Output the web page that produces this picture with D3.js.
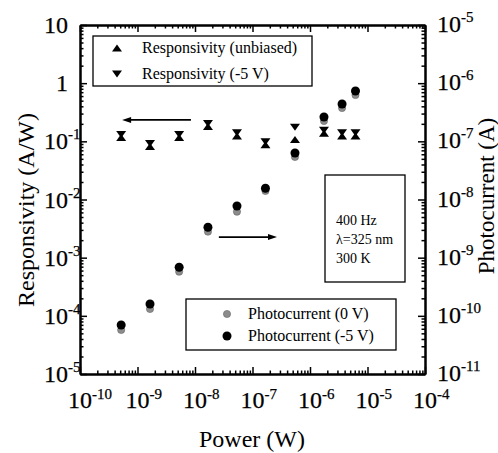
<!DOCTYPE html>
<html><head><meta charset="utf-8">
<script src="https://cdn.jsdelivr.net/npm/d3@7"></script>
<style>body{margin:0;background:#fff}svg{display:block}</style>
</head><body><svg id="c" width="498" height="453"></svg>
<script>
// ---- data ----
const power        = [5.2e-10, 1.65e-9, 5.3e-9, 1.68e-8, 5.37e-8, 1.68e-7, 5.48e-7, 1.75e-6, 3.61e-6, 6.18e-6];
const respUnbiased = [0.116, 0.0815, 0.116, 0.180, 0.124, 0.0873, 0.1076, 0.138, 0.124, 0.124];
const respMinus5V  = [0.131, 0.0918, 0.131, 0.203, 0.140, 0.0982, 0.174, 0.155, 0.140, 0.140];
const photo0V      = [5.71e-11, 1.31e-10, 5.74e-10, 2.80e-9, 6.17e-9, 1.40e-8, 5.38e-8, 2.24e-7, 3.74e-7, 6.26e-7];
const photoMinus5V = [6.97e-11, 1.60e-10, 6.84e-10, 3.33e-9, 7.73e-9, 1.56e-8, 6.31e-8, 2.62e-7, 4.38e-7, 7.33e-7];
const xTickExp      = [-10, -9, -8, -7, -6, -5, -4];
const yLeftTickExp  = [-5, -4, -3, -2, -1, 0, 1];
const yRightTickExp = [-11, -10, -9, -8, -7, -6, -5];
const legendResp  = ["Responsivity (unbiased)", "Responsivity (-5 V)"];
const legendPhoto = ["Photocurrent (0 V)", "Photocurrent (-5 V)"];
const conditions  = ["400 Hz", "\u03bb=325 nm", "300 K"];
const arrowLeft   = [[8.5e-9, 0.233], [5.4e-10, 0.233]];
const arrowRight  = [[2.6e-8, 2.26e-3], [2.67e-7, 2.26e-3]];
const xTitle = "Power (W)", yLeftTitle = "Responsivity (A/W)", yRightTitle = "Photocurrent (A)";

// ---- layout ----
const L = 80, R = 425, T = 25, B = 374;
const FONT = "Liberation Serif, Times New Roman, Times, serif";
const svg = d3.select("#c").attr("font-family", FONT);

const x  = d3.scaleLog().domain([1e-10, 1e-4]).range([L, R]);
const yL = d3.scaleLog().domain([1e-5, 10]).range([B, T]);
const yR = d3.scaleLog().domain([1e-11, 1e-5]).range([B, T]);

const majorX = xTickExp.map(e => Math.pow(10, e));
const minorX = x.ticks().filter(v => !majorX.some(m => Math.abs(m - v) / m < 1e-6));
const majorYL = yLeftTickExp.map(e => Math.pow(10, e));
const minorYL = yL.ticks().filter(v => !majorYL.some(m => Math.abs(m - v) / m < 1e-6));
const majorYR = yRightTickExp.map(e => Math.pow(10, e));
const minorYR = yR.ticks().filter(v => !majorYR.some(m => Math.abs(m - v) / m < 1e-6));

function styleAxis(g) {
  g.selectAll("path.domain").attr("stroke", "#000").attr("stroke-width", 2);
  g.selectAll(".tick line").attr("stroke", "#000").attr("stroke-width", 1.5);
  g.selectAll(".tick text").remove();
}
function axisPair(axisFn, scale, major, minor, tr) {
  svg.append("g").attr("transform", tr).call(axisFn(scale).tickValues(major).tickSizeInner(-7).tickSizeOuter(0)).call(styleAxis);
  svg.append("g").attr("transform", tr).call(axisFn(scale).tickValues(minor).tickSizeInner(-3.5).tickSizeOuter(0)).call(styleAxis);
}
axisPair(d3.axisBottom, x, majorX, minorX, `translate(0,${B})`);
axisPair(d3.axisTop, x, majorX, minorX, `translate(0,${T})`);
axisPair(d3.axisLeft, yL, majorYL, minorYL, `translate(${L},0)`);
axisPair(d3.axisRight, yR, majorYR, minorYR, `translate(${R},0)`);

// ---- tick labels ----
const TF = 24, SF = 15;
function powLabel(px, py, exp, mode, supDy) {
  const t = svg.append("text").attr("font-size", TF).attr("y", py).attr("font-family", FONT)
    .attr("stroke", "#000").attr("stroke-width", 0.25);
  if (exp === 0 || exp === 1) {
    t.text(exp === 0 ? "1" : "10").attr("x", px).attr("text-anchor", "end");
    return;
  }
  const base = t.append("tspan").text("10");
  t.append("tspan").attr("font-size", SF).attr("dy", supDy).text(String(exp));
  const w = base.node().getComputedTextLength();
  let sx = px;
  if (mode === "left") sx = px - w;
  if (mode === "center") sx = px - w / 2;
  t.attr("x", sx);
}
xTickExp.forEach(e => powLabel(x(Math.pow(10, e)), 408, e, "center", -9));
yLeftTickExp.forEach(e => powLabel(68, yL(Math.pow(10, e)) + 8, e, "left", -10));
yRightTickExp.forEach(e => powLabel(437, yR(Math.pow(10, e)) + 7, e, "right", -10));

// ---- axis titles ----
svg.append("text").attr("font-size", 24).attr("text-anchor", "middle").attr("font-family", FONT)
  .attr("transform", `translate(34,210) rotate(-90)`).text(yLeftTitle);
svg.append("text").attr("font-size", 23).attr("text-anchor", "middle").attr("font-family", FONT)
  .attr("transform", `translate(494,196) rotate(-90)`).text(yRightTitle);
svg.append("text").attr("font-size", 24).attr("text-anchor", "middle").attr("font-family", FONT)
  .attr("x", 252).attr("y", 447).text(xTitle);

// ---- markers ----
function triUp(cx, cy) { return `M${cx - 5},${cy + 3.5}L${cx + 5},${cy + 3.5}L${cx},${cy - 3.5}Z`; }
function triDown(cx, cy) { return `M${cx - 5},${cy - 3.5}L${cx + 5},${cy - 3.5}L${cx},${cy + 3.5}Z`; }
const gPts = svg.append("g");
gPts.selectAll("circle.p0").data(power).join("circle").attr("class", "p0")
  .attr("cx", d => x(d)).attr("cy", (d, i) => yR(photo0V[i])).attr("r", 3.6)
  .attr("fill", "#8c8c8c").attr("stroke", "#666").attr("stroke-width", 0.6);
gPts.selectAll("circle.p5").data(power).join("circle").attr("class", "p5")
  .attr("cx", d => x(d)).attr("cy", (d, i) => yR(photoMinus5V[i])).attr("r", 4.5).attr("fill", "#000");
gPts.selectAll("path.ru").data(power).join("path").attr("class", "ru")
  .attr("d", (d, i) => triUp(x(d), yL(respUnbiased[i]))).attr("fill", "#000");
gPts.selectAll("path.rd").data(power).join("path").attr("class", "rd")
  .attr("d", (d, i) => triDown(x(d), yL(respMinus5V[i]))).attr("fill", "#000");

// ---- arrows ----
function arrow(a) {
  const [p0, p1] = a.map(p => [x(p[0]), yL(p[1])]);
  const dir = Math.sign(p1[0] - p0[0]);
  svg.append("line").attr("x1", p0[0]).attr("y1", p0[1]).attr("x2", p1[0] - dir * 6).attr("y2", p1[1])
    .attr("stroke", "#000").attr("stroke-width", 1.8);
  svg.append("path").attr("d", `M${p1[0]},${p1[1]}L${p1[0] - dir * 9},${p1[1] - 3}L${p1[0] - dir * 9},${p1[1] + 3}Z`).attr("fill", "#000");
}
arrow(arrowLeft);
arrow(arrowRight);

// ---- legend 1 ----
svg.append("rect").attr("x", 93).attr("y", 36).attr("width", 219).attr("height", 50)
  .attr("fill", "#fff").attr("stroke", "#000").attr("stroke-width", 1.3);
legendResp.forEach((s, i) => {
  const cy = 48 + i * 26;
  svg.append("path").attr("d", i === 0 ? triUp(117, cy) : triDown(117, cy)).attr("fill", "#000");
  svg.append("text").attr("x", 142).attr("y", cy + 5).attr("font-size", 16).attr("font-family", FONT).text(s);
});
// ---- legend 2 ----
svg.append("rect").attr("x", 186).attr("y", 299).attr("width", 210).attr("height", 51)
  .attr("fill", "#fff").attr("stroke", "#000").attr("stroke-width", 1.3);
legendPhoto.forEach((s, i) => {
  const cy = 314 + i * 22;
  if (i === 0) svg.append("circle").attr("cx", 227).attr("cy", cy).attr("r", 3.6).attr("fill", "#8c8c8c").attr("stroke", "#666").attr("stroke-width", 0.6);
  else svg.append("circle").attr("cx", 227).attr("cy", cy).attr("r", 4.5).attr("fill", "#000");
  svg.append("text").attr("x", 248).attr("y", cy + 5).attr("font-size", 16).attr("font-family", FONT).text(s);
});
// ---- conditions box ----
svg.append("rect").attr("x", 325).attr("y", 175).attr("width", 80).attr("height", 107)
  .attr("fill", "#fff").attr("stroke", "#000").attr("stroke-width", 1.3);
conditions.forEach((s, i) => {
  svg.append("text").attr("x", 336).attr("y", 225 + i * 19).attr("font-size", 14).attr("font-family", FONT).text(s);
});
</script></body></html>
